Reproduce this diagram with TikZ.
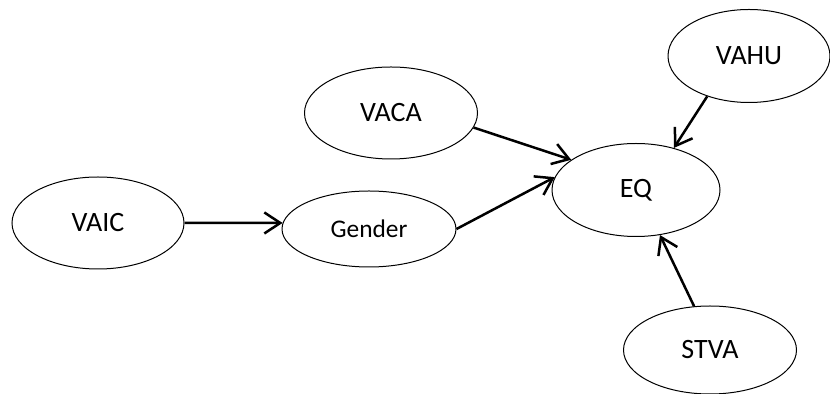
\documentclass[tikz,border=0pt]{standalone}
\usepackage{fontspec}
\setmainfont{Carlito}
\usepackage{tikz}
\usetikzlibrary{arrows.meta,shapes.geometric,positioning}

\begin{document}
\begin{tikzpicture}[x=0.5pt,y=-0.5pt,>={Straight Barb[length=8pt,width=10.5pt]}]
\tikzstyle{var}=[ellipse, draw=black, line width=0.5pt, inner sep=0pt, font=\fontsize{14}{16}\selectfont]
\tikzstyle{edge}=[->, line width=1.25pt]
\useasboundingbox (0,0) rectangle (830,394);
% exogenous variables
\node[var, minimum width=86pt, minimum height=46pt] (vaic) at (98,223) {VAIC};
\node[var, minimum width=87pt, minimum height=38pt, font=\fontsize{12.7}{15}\selectfont] (gender) at (369,229) {Gender};
\node[var, minimum width=86.5pt, minimum height=46pt] (vaca) at (391,113) {VACA};
\node[var, minimum width=81pt, minimum height=46.5pt] (vahu) at (749,56) {VAHU};
\node[var, minimum width=86.5pt, minimum height=44pt] (stva) at (710,350) {STVA};
% outcome
\node[var, minimum width=84pt, minimum height=46.5pt] (eq) at (636,190) {EQ};
% paths
\draw[edge] (vaic.east) -- (gender.176);
\draw[edge] (gender.east) -- (eq.171);
\draw[edge] (vaca.-10) -- (eq.155);
\draw[edge] (vahu.-136) -- (eq.48);
\draw[edge] (stva.110) -- (eq.-62);
\end{tikzpicture}
\end{document}
